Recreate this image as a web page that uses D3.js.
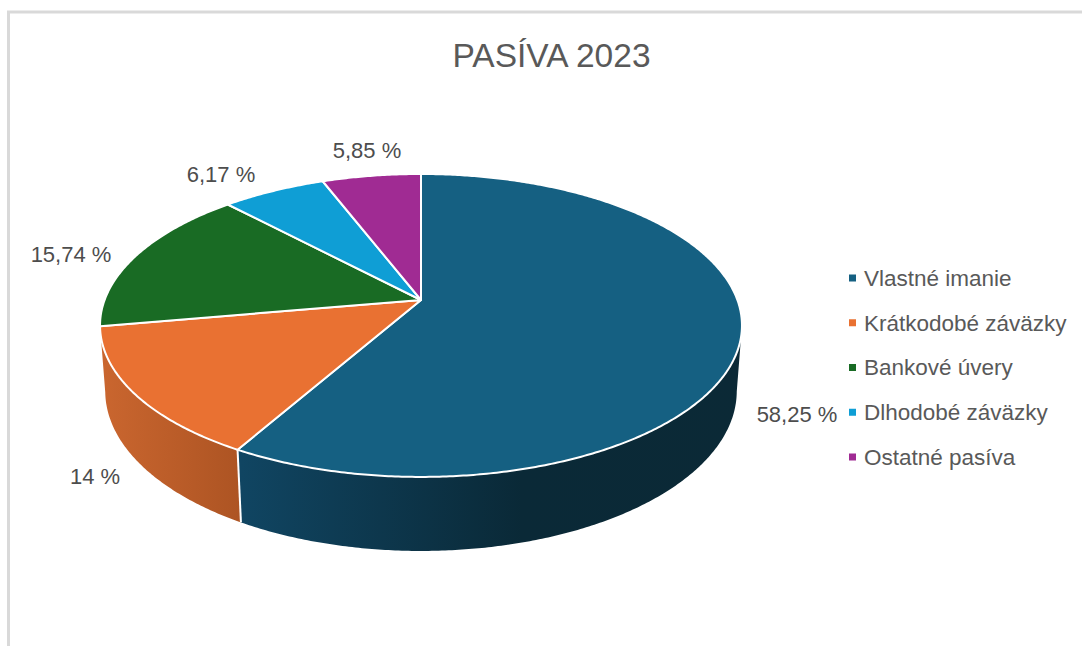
<!DOCTYPE html>
<html>
<head>
<meta charset="utf-8">
<script src="https://cdn.jsdelivr.net/npm/d3@7"></script>
<style>
  html, body { margin: 0; padding: 0; background: #fff; overflow: hidden; }
  text { font-family: "Liberation Sans", Arial, sans-serif; fill: #595959; }
</style>
</head>
<body>
<script>
// data
const categories = ['Vlastné imanie', 'Krátkodobé záväzky', 'Bankové úvery', 'Dlhodobé záväzky', 'Ostatné pasíva']
const shares = [58.25, 14, 15.74, 6.17, 5.85]
const valueLabels = ['58,25 %', '14 %', '15,74 %', '6,17 %', '5,85 %']
const colors = ['#156082', '#E97132', '#196B24', '#0F9ED5', '#A02B93']
const chartTitle = 'PASÍVA 2023'

// label centres, excel places these by hand more or less
const labelPos = [[797, 414], [95, 476], [71, 254], [221, 174], [367, 150]]

const width = 1082, height = 646

// pie camera, fitted to the rim of the top face and the foot of the wall
const cx = 421, cy = 300
const A = 316.4, B = 147.2, tilt = -0.168   // radius x, radius y, perspective
const drop = 65.6, dropW = 0.016            // wall height

function project(angle, level) {
    let px = Math.sin(angle), py = -Math.cos(angle)
    let w = 1 + tilt * py + dropW * level
    return [cx + A * px / w, cy + (B * py + drop * level) / w]
}

// sample an arc from a to b, in steps of roughly half a degree
function rim(a, b, level) {
    return d3.range(0, 1.0001, 1 / Math.max(2, Math.ceil((b - a) / 0.009)))
        .map(t => project(a + (b - a) * t, level))
}

const line = d3.line()

const pie = d3.pie().sort(null)
const slices = pie(shares)

const color = d3.scaleOrdinal().domain(categories).range(colors)

const svg = d3.select('body').append('svg')
    .attr('width', width)
    .attr('height', height)
    .style('display', 'block')

// frame of the pasted chart, only top and left show
svg.append('path')
    .attr('d', `M8.5,${height}V12H${width}`)
    .attr('fill', 'none')
    .attr('stroke', '#d9d9d9')
    .attr('stroke-width', 3)

svg.append('text')
    .attr('x', 551.5)
    .attr('y', 67)
    .attr('text-anchor', 'middle')
    .attr('font-size', 33.5)
    .text(chartTitle)

// wall shading
const defs = svg.append('defs')
const wallBlue = defs.append('linearGradient')
    .attr('id', 'wallBlue')
    .attr('gradientUnits', 'userSpaceOnUse')
    .attr('x1', 241).attr('x2', 742).attr('y1', 0).attr('y2', 0)
wallBlue.append('stop').attr('offset', 0).attr('stop-color', '#104562')
wallBlue.append('stop').attr('offset', 0.56).attr('stop-color', '#0a2937')
wallBlue.append('stop').attr('offset', 1).attr('stop-color', '#0b2936')

const wallOrange = defs.append('linearGradient')
    .attr('id', 'wallOrange')
    .attr('gradientUnits', 'userSpaceOnUse')
    .attr('x1', 101).attr('x2', 241).attr('y1', 0).attr('y2', 0)
wallOrange.append('stop').attr('offset', 0).attr('stop-color', '#ca662f')
wallOrange.append('stop').attr('offset', 1).attr('stop-color', '#ad5423')

// only the two front slices show a wall, and only from the silhouette down
const silhouette = Math.acos(tilt)
const walls = [
    { fill: 'url(#wallBlue)', from: silhouette, to: slices[0].endAngle },
    { fill: 'url(#wallOrange)', from: slices[1].startAngle, to: slices[1].endAngle }
]

walls.forEach(d => {
    let pts = rim(d.from, d.to, 0).concat(rim(d.from, d.to, 1).reverse())
    svg.append('path')
        .attr('d', line(pts) + 'Z')
        .attr('fill', d.fill)
})

// seam between the two walls
svg.append('path')
    .attr('d', line([project(slices[0].endAngle, 0), project(slices[0].endAngle, 1)]))
    .attr('stroke', '#fff')
    .attr('stroke-width', 2)

// top face
svg.append('g').selectAll('path')
    .data(slices)
    .join('path')
    .attr('d', d => line([[cx, cy]].concat(rim(d.startAngle, d.endAngle, 0))) + 'Z')
    .attr('fill', (d, i) => color(categories[i]))
    .attr('stroke', '#fff')
    .attr('stroke-width', 2)
    .attr('stroke-linejoin', 'round')

svg.append('g').selectAll('text')
    .data(valueLabels)
    .join('text')
    .attr('x', (d, i) => labelPos[i][0])
    .attr('y', (d, i) => labelPos[i][1])
    .attr('dy', '0.35em')
    .attr('text-anchor', 'middle')
    .attr('font-size', 22)
    .style('fill', '#4d4d4d')
    .text(d => d)

// legend
const legendY = d3.scalePoint().domain(categories).range([278, 457])

const legend = svg.append('g').selectAll('g')
    .data(categories)
    .join('g')
    .attr('transform', d => `translate(849,${legendY(d)})`)

legend.append('rect')
    .attr('y', -3.5)
    .attr('width', 7)
    .attr('height', 7)
    .attr('fill', d => color(d))

legend.append('text')
    .attr('x', 15)
    .attr('dy', '0.35em')
    .attr('font-size', 22.5)
    .text(d => d)
</script>
</body>
</html>
